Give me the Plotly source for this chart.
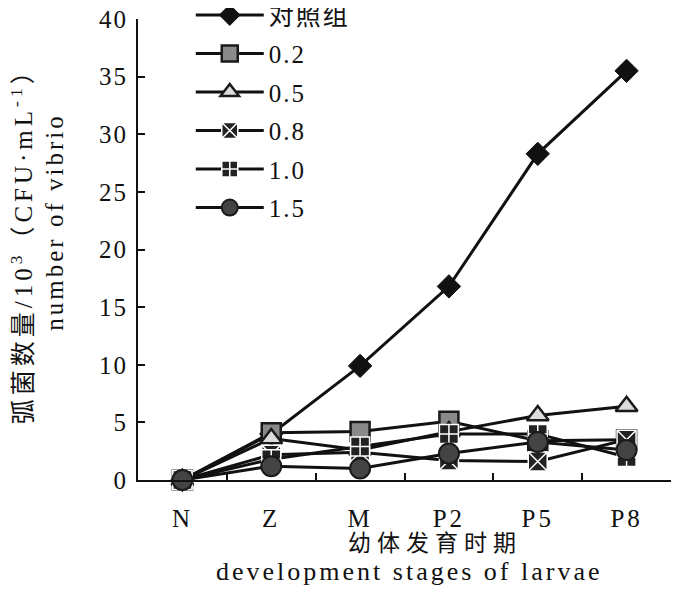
import plotly.graph_objects as go

stages = ["N", "Z", "M", "P2", "P5", "P8"]
control = [0, 4.0, 9.9, 16.8, 28.3, 35.5]
c02 = [0, 4.1, 4.2, 5.1, 3.4, 3.5]
c05 = [0, 3.6, 2.6, 4.2, 5.6, 6.4]
c08 = [0, 2.2, 2.4, 1.7, 1.6, 3.5]
c10 = [0, 1.8, 2.9, 4.0, 4.0, 2.0]
c15 = [0, 1.2, 1.0, 2.3, 3.3, 2.6]
names = ["对照组", "0.2", "0.5", "0.8", "1.0", "1.5"]
y_ticks = [0, 5, 10, 15, 20, 25, 30, 35, 40]

FONT = "Liberation Serif, Times New Roman, Noto Sans CJK SC, serif"

styles = [
    dict(symbol="diamond", size=18, color="#111111", line=dict(color="#111111", width=1)),
    dict(symbol="square", size=19, color="#8a8a8a", line=dict(color="#1a1a1a", width=2.5)),
    dict(symbol="triangle-up", size=19, color="#dcdcdc", line=dict(color="#1a1a1a", width=2.5)),
    dict(symbol="square-x", size=19, color="#222222", line=dict(color="#ffffff", width=1.5)),
    dict(symbol="square-cross", size=19, color="#222222", line=dict(color="#ffffff", width=1.5)),
    dict(symbol="circle", size=20, color="#444444", line=dict(color="#1a1a1a", width=2)),
]


def spaced(txt, px):
    return '<span style="letter-spacing:%dpx">%s</span>' % (px, txt)


fig = go.Figure()
for nm, vals, st in zip(names, [control, c02, c05, c08, c10, c15], styles):
    fig.add_trace(go.Scatter(
        x=stages, y=vals, name=spaced(nm, 2), mode="lines+markers", legendgroup=nm,
        line=dict(color="#111111", width=3),
        marker=st, cliponaxis=False,
    ))

# page body has an 8px offset in the browser, so margins are shifted by 8px
fig.update_layout(
    width=700, height=599,
    margin=dict(l=130, r=37, t=11, b=127, autoexpand=False),
    paper_bgcolor="white", plot_bgcolor="white",
    font=dict(family=FONT, size=25, color="#111111"),
    showlegend=True,
    legend=dict(x=0.099, y=1.058, xanchor="left", yanchor="top",
                bgcolor="rgba(0,0,0,0)", font=dict(size=25),
                tracegroupgap=3, itemwidth=68),
    xaxis=dict(
        type="category", showline=True, linecolor="#111111", linewidth=2,
        ticks="inside", tickson="boundaries", ticklen=7, tickwidth=2, tickcolor="#111111",
        showgrid=False, zeroline=False, range=[-0.5, 5.5],
        tickvals=stages, ticktext=[spaced(s, 3) for s in stages],
        tickfont=dict(size=25), ticklabelstandoff=15, ticklabeloverflow="allow",
    ),
    yaxis=dict(
        range=[0, 40], tickvals=y_ticks, ticktext=[spaced(str(v), 2) for v in y_ticks],
        showline=True, linecolor="#111111", linewidth=2,
        ticks="inside", ticklen=7, tickwidth=2, tickcolor="#111111",
        showgrid=False, zeroline=False, tickfont=dict(size=25), ticklabelstandoff=3,
        ticklabeloverflow="allow",
    ),
    annotations=[
        dict(text=spaced("幼体发育时期", 6), xref="paper", yref="paper", x=0.557,
             y=(480 - 543) / 461,
             showarrow=False, font=dict(size=23), xanchor="center", yanchor="middle"),
        dict(text=spaced("development stages of larvae", 3), xref="paper", yref="paper",
             x=0.51, y=(480 - 571) / 461,
             showarrow=False, font=dict(size=26), xanchor="center", yanchor="middle"),
        dict(text=spaced("弧菌数量/10<sup>3</sup>（CFU·mL<sup>-1</sup>）", 4), xref="paper",
             yref="paper", x=-0.2176, y=0.52, textangle=-90, showarrow=False,
             font=dict(size=25), xanchor="center", yanchor="middle"),
        dict(text=spaced("number of vibrio", 3), xref="paper", yref="paper",
             x=-0.156, y=0.56, textangle=-90, showarrow=False, font=dict(size=25),
             xanchor="center", yanchor="middle"),
    ],
)

fig.write_html("out.html")
